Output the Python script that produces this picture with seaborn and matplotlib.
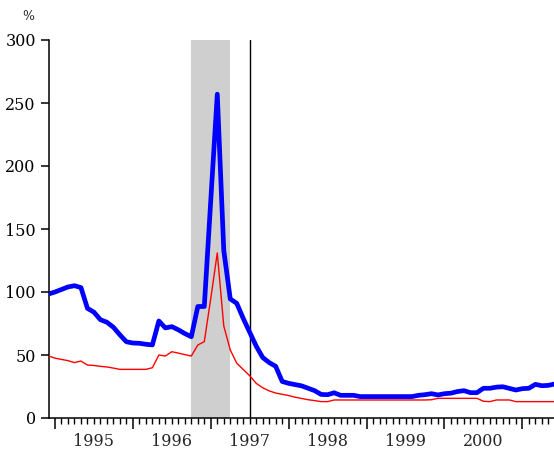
import numpy as np
import pandas as pd
import seaborn as sns
import matplotlib.pyplot as plt
from matplotlib.ticker import MultipleLocator, NullFormatter
import matplotlib.transforms as mtrans

sns.set_style('ticks')
plt.rcParams['font.family'] = ['DejaVu Serif']

# monthly observations, Dec 1994 .. Jun 2001
months = pd.date_range('1994-12-01', periods=79, freq='MS')

blue_vals = [98.4, 100, 102, 104, 105, 103.5, 87, 84, 78, 76, 72, 66, 60.5,
             59.5, 59.3, 58.5, 58, 77, 71.5, 72.5, 70, 67, 64.5, 88.5, 88.5,
             173, 257, 133, 94.5, 91, 79, 68, 57, 48, 44, 41, 29,
             27.5, 26.5, 25.5, 23.6, 21.7, 18.7, 18.5, 20, 18, 18, 18, 17,
             17, 17, 17, 17, 17, 17, 17, 17, 18, 18.5, 19.3, 18.3,
             19.3, 19.7, 21, 21.7, 20.1, 20.1, 23.6, 23.6, 24.5, 24.8, 23.5, 22.2,
             23.3, 23.6, 26.7, 25.6, 25.9, 27]

red_vals = [49.2, 47.5, 46.5, 45.5, 44, 45.2, 42, 41.7, 41, 40.5, 39.6, 38.6, 38.6,
            38.6, 38.6, 38.6, 39.9, 50, 49.2, 52.6, 51.5, 50.3, 49.2, 57.9, 60.6,
            95, 131, 73, 54, 43.5, 38.5, 33.5, 27.5, 24, 21.5, 19.8, 18.8,
            17.8, 16.5, 15.5, 14.5, 13.8, 13, 13, 14.3, 14.3, 14.3, 14.3, 14.3,
            14.3, 14.3, 14.3, 14.3, 14.3, 14.3, 14.3, 14.3, 14.3, 14.3, 14.5, 15.6,
            15.6, 15.6, 15.6, 15.6, 15.6, 15.6, 13.3, 13, 14.3, 14.3, 14.3, 13,
            13, 13, 13, 13, 13, 13]

year_labels = ['1995', '1996', '1997', '1998', '1999', '2000']

df = pd.DataFrame({'t': months.year + (months.month - 1) / 12,
                   'blue': blue_vals, 'red': red_vals})

fig = plt.figure(figsize=(5.54, 4.51), dpi=100)
ax = fig.add_axes([49 / 554, 33 / 451, 505 / 554, 378 / 451])

# shaded period and marker line
ax.axvspan(1996.75, 1997.25, color='#cfcfcf', lw=0, zorder=0)
ax.axvline(1997.5, color='black', lw=1, zorder=1)

sns.lineplot(data=df, x='t', y='red', color='#ff0000', lw=1.0, ax=ax, zorder=3)
sns.lineplot(data=df, x='t', y='blue', color='#0000ff', lw=3.4, ax=ax, zorder=4)

ax.set_xlim(1994.923, 2001.406)
ax.set_ylim(0, 300)
ax.set_xlabel('')
ax.set_ylabel('')

sns.despine(ax=ax)
for s in ['left', 'bottom']:
    ax.spines[s].set_linewidth(1.1)
    ax.spines[s].set_color('black')

ax.set_yticks(range(0, 301, 50))
ax.tick_params(axis='y', length=6, width=1.1, labelsize=11.5, colors='black')
ax.xaxis.set_major_locator(MultipleLocator(1))
ax.xaxis.set_minor_locator(MultipleLocator(1 / 12))
ax.xaxis.set_major_formatter(NullFormatter())
ax.tick_params(axis='x', which='major', length=8, width=1.1, colors='black')
ax.tick_params(axis='x', which='minor', length=4.5, width=1.0, colors='black')

# year labels sit in the middle of each year
trans = mtrans.blended_transform_factory(ax.transData, ax.transAxes)
for i, lab in enumerate(year_labels):
    ax.text(1995.5 + i, -0.061, lab, transform=trans, ha='center', va='center',
            fontsize=11.5)

fig.text(28 / 554, 1 - 16 / 451, '%', ha='center', va='center', fontsize=9)

fig.savefig('out.png', dpi=100)
